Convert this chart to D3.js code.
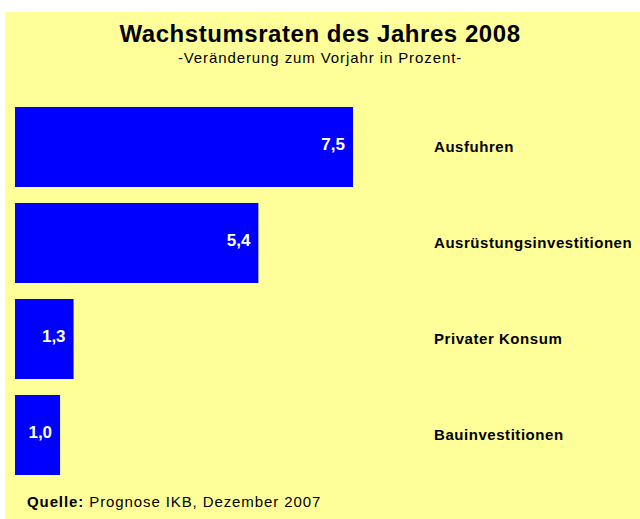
<!DOCTYPE html>
<html><head><meta charset="utf-8">
<script src="https://cdn.jsdelivr.net/npm/d3@7"></script>
<style>body{margin:0;background:#fff}svg{display:block}text{font-family:"Liberation Sans",Arial,sans-serif}</style>
</head><body><svg id="c" width="640" height="519"></svg>
<script>
const categories = ["Ausfuhren","Ausrüstungsinvestitionen","Privater Konsum","Bauinvestitionen"];
const values = [7.5, 5.4, 1.3, 1.0];
const valueLabels = ["7,5","5,4","1,3","1,0"];
const title = "Wachstumsraten des Jahres 2008";
const subtitle = "-Veränderung zum Vorjahr in Prozent-";

const svg = d3.select("#c");
svg.append("rect").attr("x",5).attr("y",12).attr("width",635).attr("height",507).attr("fill","#FFFF99");

const x = d3.scaleLinear().domain([0,7.5]).range([15,353]);
const y = d3.scaleBand().domain(categories).range([99,483]).paddingInner(1/6).paddingOuter(1/12);

svg.append("text").attr("x",320).attr("y",42).attr("text-anchor","middle")
  .attr("font-size",24).attr("font-weight","bold").attr("fill","#000").attr("letter-spacing",0.55).text(title);
svg.append("text").attr("x",320).attr("y",63).attr("text-anchor","middle")
  .attr("font-size",15).attr("fill","#000").attr("letter-spacing",0.9).text(subtitle);

const g = svg.append("g");
const data = categories.map((c,i)=>({c,v:values[i],l:valueLabels[i]}));
g.selectAll("rect.bar").data(data).join("rect").attr("class","bar")
  .attr("x",x(0)).attr("y",d=>y(d.c)).attr("width",d=>x(d.v)-x(0)).attr("height",y.bandwidth())
  .attr("fill","#0000FF");
g.selectAll("text.val").data(data).join("text").attr("class","val")
  .attr("x",d=>x(d.v)-8).attr("y",d=>y(d.c)+y.bandwidth()/2+3)
  .attr("text-anchor","end").attr("font-size",17).attr("font-weight","bold").attr("fill","#fff")
  .text(d=>d.l);
g.selectAll("text.cat").data(data).join("text").attr("class","cat")
  .attr("x",434).attr("y",d=>y(d.c)+y.bandwidth()/2+5)
  .attr("font-size",15).attr("font-weight","bold").attr("fill","#000").attr("letter-spacing",0.55)
  .text(d=>d.c);

const f = svg.append("text").attr("x",27).attr("y",507).attr("font-size",15).attr("fill","#000").attr("letter-spacing",0.9);
f.append("tspan").attr("font-weight","bold").text("Quelle:");
f.append("tspan").text(" Prognose IKB, Dezember 2007");
</script></body></html>
